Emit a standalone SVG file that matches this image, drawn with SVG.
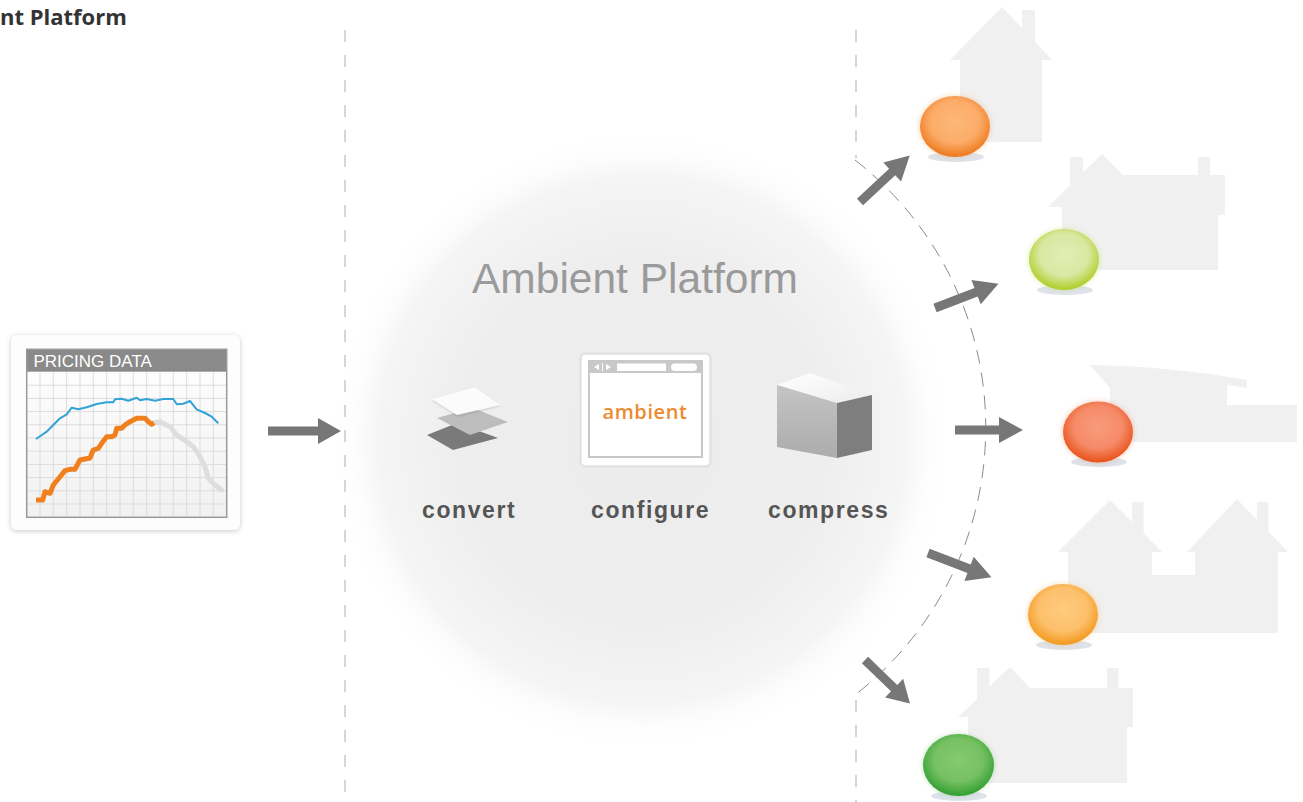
<svg xmlns="http://www.w3.org/2000/svg" width="1303" height="802" viewBox="0 0 1303 802">
<style>
.house{fill:#f0f0f0}
.arr{fill:#777}
.vdash{fill:none;stroke:#c9c9c9;stroke-width:1.5;stroke-dasharray:12 13}
.cdash{fill:none;stroke:#8a8a8a;stroke-width:1;stroke-dasharray:14 9}
.lbl{font-family:"Liberation Sans",Arial,sans-serif;font-weight:bold;font-size:23px;fill:#555;letter-spacing:1.6px}
.grid{stroke:#dcdcdc;stroke-width:1}
.shadow{fill:#dde3e9}
</style>
<defs>
<radialGradient id="glow" gradientUnits="userSpaceOnUse" cx="642" cy="440" r="310">
<stop offset="0" stop-color="#ececec"/>
<stop offset="0.6" stop-color="#eeeeee"/>
<stop offset="0.85" stop-color="#f5f5f5"/>
<stop offset="1" stop-color="#ffffff" stop-opacity="0"/>
</radialGradient>
<linearGradient id="chartbg" x1="0" y1="0" x2="0" y2="1">
<stop offset="0" stop-color="#ffffff"/>
<stop offset="1" stop-color="#f1f1f1"/>
</linearGradient>
<linearGradient id="cubetop" x1="0" y1="0" x2="1" y2="1">
<stop offset="0" stop-color="#ffffff"/>
<stop offset="1" stop-color="#ececec"/>
</linearGradient>
<linearGradient id="cubeleft" x1="0" y1="0" x2="0" y2="1">
<stop offset="0" stop-color="#c4c4c4"/>
<stop offset="1" stop-color="#acacac"/>
</linearGradient>
<radialGradient id="b1" cx="0.5" cy="0.42" r="0.56">
<stop offset="0" stop-color="#fdb878"/>
<stop offset="0.62" stop-color="#fcac68"/>
<stop offset="1" stop-color="#ee7d24"/>
</radialGradient>
<radialGradient id="b2" cx="0.5" cy="0.42" r="0.56">
<stop offset="0" stop-color="#e2edb6"/>
<stop offset="0.62" stop-color="#d9e8a2"/>
<stop offset="1" stop-color="#b2cf2f"/>
</radialGradient>
<radialGradient id="b3" cx="0.5" cy="0.42" r="0.56">
<stop offset="0" stop-color="#f99c7c"/>
<stop offset="0.62" stop-color="#f68a68"/>
<stop offset="1" stop-color="#e9561f"/>
</radialGradient>
<radialGradient id="b4" cx="0.5" cy="0.42" r="0.56">
<stop offset="0" stop-color="#fecb7e"/>
<stop offset="0.62" stop-color="#fdc06c"/>
<stop offset="1" stop-color="#f49c24"/>
</radialGradient>
<radialGradient id="b5" cx="0.5" cy="0.42" r="0.56">
<stop offset="0" stop-color="#86ca72"/>
<stop offset="0.62" stop-color="#76c062"/>
<stop offset="1" stop-color="#36a236"/>
</radialGradient>
<filter id="cardsh" x="-10%" y="-10%" width="120%" height="120%">
<feDropShadow dx="0" dy="1" stdDeviation="2.5" flood-color="#000" flood-opacity="0.22"/>
</filter>
<filter id="soft" x="-30%" y="-30%" width="160%" height="160%">
<feGaussianBlur stdDeviation="2.5"/>
</filter>
<filter id="lsh" x="-20%" y="-20%" width="140%" height="160%">
<feDropShadow dx="0" dy="1" stdDeviation="1" flood-color="#000" flood-opacity="0.18"/>
</filter>
<path id="arrow" d="M0,-4.5 H44 V-13 L68,0 L44,13 V4.5 H0 Z"/>
</defs>

<rect width="1303" height="802" fill="#ffffff"/>

<!-- platform glow -->
<circle cx="642" cy="440" r="310" fill="url(#glow)"/>

<!-- title -->
<text x="0" y="25" font-family="'Open Sans','Liberation Sans',sans-serif" font-weight="700" font-size="22" fill="#333">nt Platform</text>

<!-- divider lines -->
<g id="dividers">
<line class="vdash" x1="345" y1="30" x2="345" y2="802"/>
<line class="vdash" x1="856" y1="30" x2="856" y2="158"/>
<line class="vdash" x1="856" y1="700" x2="856" y2="802"/>
<path class="cdash" d="M855,160 A339,339 0 0 1 855,695"/>
</g>

<!-- houses -->
<g id="houses">
<g id="house-1">
<polygon class="house" points="950,60 1002,7 1052,60 1042,60 1042,142 960,142 960,60"/>
<rect class="house" x="1022" y="10" width="13" height="35"/>
</g>
<g id="house-2">
<polygon class="house" points="1048,207 1102,154 1123,175 1225,175 1225,215 1218,215 1218,270 1062,270 1062,207"/>
<rect class="house" x="1070" y="157" width="13" height="35"/>
<rect class="house" x="1198" y="157" width="12" height="20"/>
</g>
<g id="house-3">
<path class="house" d="M1090,365 Q1170,366 1247,380 L1247,388 Q1170,376 1110,374 L1110,442 L1297,442 L1297,405 L1227,405 L1227,388 L1110,388 Z"/>
<path class="house" d="M1110,372 L1227,380 L1227,442 L1110,442 Z"/>
</g>
<g id="house-4">
<polygon class="house" points="1058,552 1110,500 1162,552 1152,552 1152,575 1195,575 1195,552 1187,552 1237,499 1288,552 1278,552 1278,633 1068,633 1068,552"/>
<rect class="house" x="1132" y="502" width="11.5" height="35"/>
<rect class="house" x="1257" y="502" width="11.5" height="35"/>
</g>
<g id="house-5">
<polygon class="house" points="958,717 1010,667 1030,688 1133,688 1133,727 1127,727 1127,783 968,783 968,717"/>
<rect class="house" x="977" y="668" width="12.5" height="35"/>
<rect class="house" x="1107" y="668" width="11.5" height="22"/>
</g>
</g>

<!-- pricing data card -->
<g id="pricing-data">
<rect x="11" y="335" width="229" height="195" rx="6" fill="#fdfdfd" filter="url(#cardsh)"/>
<rect x="26.7" y="349.3" width="200" height="168" fill="url(#chartbg)"/>
<g class="grid">
<line x1="40" y1="372" x2="40" y2="517"/><line x1="53.3" y1="372" x2="53.3" y2="517"/>
<line x1="66.7" y1="372" x2="66.7" y2="517"/><line x1="80" y1="372" x2="80" y2="517"/>
<line x1="93.3" y1="372" x2="93.3" y2="517"/><line x1="106.7" y1="372" x2="106.7" y2="517"/>
<line x1="120" y1="372" x2="120" y2="517"/><line x1="133.3" y1="372" x2="133.3" y2="517"/>
<line x1="146.7" y1="372" x2="146.7" y2="517"/><line x1="160" y1="372" x2="160" y2="517"/>
<line x1="173.3" y1="372" x2="173.3" y2="517"/><line x1="186.7" y1="372" x2="186.7" y2="517"/>
<line x1="200" y1="372" x2="200" y2="517"/><line x1="213.3" y1="372" x2="213.3" y2="517"/>
<line x1="26.7" y1="385.2" x2="226.7" y2="385.2"/><line x1="26.7" y1="398.4" x2="226.7" y2="398.4"/>
<line x1="26.7" y1="411.6" x2="226.7" y2="411.6"/><line x1="26.7" y1="424.8" x2="226.7" y2="424.8"/>
<line x1="26.7" y1="438" x2="226.7" y2="438"/><line x1="26.7" y1="451.2" x2="226.7" y2="451.2"/>
<line x1="26.7" y1="464.4" x2="226.7" y2="464.4"/><line x1="26.7" y1="477.6" x2="226.7" y2="477.6"/>
<line x1="26.7" y1="490.8" x2="226.7" y2="490.8"/><line x1="26.7" y1="504" x2="226.7" y2="504"/>
</g>
<polyline fill="none" stroke="#dedede" stroke-width="5" stroke-linejoin="round" stroke-linecap="round" points="154,422.7 160,421.7 170,426.7 176.7,435 186.7,441.7 193.3,446.7 200,456.7 205,466.7 208.3,478.3 215,485 221.7,490"/>
<polyline fill="none" stroke="#33a3d6" stroke-width="2" stroke-linejoin="round" points="36,439 46.7,431.7 53.3,425 60,418.3 66.7,414.3 71.7,407.7 78.3,409.3 86.7,407.3 96.7,404 106.7,402.3 113.3,402.3 115,399.3 121.7,398.7 128.3,400.7 136.7,397.7 140,400.3 146.7,399 155,400.7 163.3,399 173.3,399 176.7,404.3 183.3,403.7 190,401 196.7,409.3 205,413 211.7,416.7 218.3,423.3"/>
<polyline fill="none" stroke="#f07f1e" stroke-width="5" stroke-linejoin="round" points="36,500 42.7,500 45,491.7 50,493.3 53.3,485 60,476.7 65,470.7 70,469.3 75,469.3 80,460 85,459 90,458 93.3,450 98.3,448.3 101.7,443.3 106.7,436.7 111.7,436.7 115,435 116.7,428.3 121.7,428.3 125,425 130,421.7 136.7,418.3 145,418.3 148.3,421.7 151.7,424.3 154,422.7"/>
<rect x="26.7" y="349.3" width="200" height="22.4" fill="#8a8a8a"/>
<rect x="26.7" y="349.3" width="200" height="168" fill="none" stroke="#999" stroke-width="1.5"/>
<text x="33.5" y="367" font-family="'Liberation Sans',Arial,sans-serif" font-size="17" fill="#ffffff">PRICING DATA</text>
</g>

<!-- platform -->
<g id="platform">
<text x="472" y="293" font-family="'Liberation Sans',Arial,sans-serif" font-size="42.5" fill="#9a9a9a">Ambient Platform</text>
</g>

<g id="convert">
<polygon points="427,435 457,423 498,438 453,450" fill="#7a7a7a"/>
<polygon points="437,418 473,408 508,422 470,435" fill="#bdbdbd"/>
<polygon points="432,399 475,387 500,405 457,415" fill="#fbfbfb" filter="url(#lsh)"/>
<text class="lbl" x="422" y="518">convert</text>
</g>

<g id="configure">
<rect x="580.5" y="353.5" width="130" height="113" rx="5" fill="#ffffff" stroke="#e2e2e2" stroke-width="2.5"/>
<rect x="589" y="361" width="113" height="96" fill="#ffffff" stroke="#c8c8c8" stroke-width="2"/>
<rect x="589" y="361" width="113" height="12" fill="#c8c8c8"/>
<polygon points="594,367 599,364 599,370" fill="#ffffff"/>
<line x1="602.5" y1="363" x2="602.5" y2="371" stroke="#ffffff" stroke-width="1"/>
<polygon points="611,367 606,364 606,370" fill="#ffffff"/>
<rect x="617" y="363.5" width="49" height="7.5" fill="#ffffff"/>
<rect x="671" y="363.5" width="26" height="7.5" rx="3.75" fill="#ffffff"/>
<text x="645" y="419" text-anchor="middle" font-family="'Open Sans','Liberation Sans',sans-serif" font-weight="600" font-size="20" letter-spacing="0.6" fill="#ee8a2e">ambient</text>
<text class="lbl" x="591" y="518">configure</text>
</g>

<g id="compress">
<polygon points="777,385 810,373 872,395 837,403" fill="url(#cubetop)"/>
<polygon points="777,385 837,403 837,458 777,447" fill="url(#cubeleft)"/>
<polygon points="837,403 872,395 872,450 837,458" fill="#7e7e7e"/>
<text class="lbl" x="768" y="518">compress</text>
</g>

<!-- connectors -->
<g id="connectors" class="arr">
<path d="M268,426.5 H318 V418 L341,431 L318,444 V435.5 H268 Z"/>
<use href="#arrow" transform="translate(860,202) rotate(-43)"/>
<use href="#arrow" transform="translate(935,308) rotate(-21)"/>
<use href="#arrow" transform="translate(955,430)"/>
<use href="#arrow" transform="translate(928,553) rotate(21)"/>
<use href="#arrow" transform="translate(865,660) rotate(44) scale(0.92,1)"/>
</g>

<!-- status balls -->
<g id="status-1">
<ellipse class="shadow" cx="956" cy="157" rx="28" ry="5"/>
<ellipse cx="955" cy="126.5" rx="36" ry="31" fill="#f59a4c" opacity="0.35" filter="url(#soft)"/>
<ellipse cx="955" cy="126.5" rx="35" ry="30.5" fill="url(#b1)"/>
</g>
<g id="status-2">
<ellipse class="shadow" cx="1065" cy="290" rx="28" ry="5"/>
<ellipse cx="1064" cy="259.5" rx="36" ry="31" fill="#c3dc5a" opacity="0.35" filter="url(#soft)"/>
<ellipse cx="1064" cy="259.5" rx="35" ry="30.5" fill="url(#b2)"/>
</g>
<g id="status-3">
<ellipse class="shadow" cx="1099" cy="462" rx="28" ry="5"/>
<ellipse cx="1098" cy="432" rx="36" ry="31" fill="#f07a50" opacity="0.35" filter="url(#soft)"/>
<ellipse cx="1098" cy="432" rx="35" ry="30.5" fill="url(#b3)"/>
</g>
<g id="status-4">
<ellipse class="shadow" cx="1064" cy="645" rx="28" ry="5"/>
<ellipse cx="1063" cy="614.5" rx="36" ry="31" fill="#f8b04a" opacity="0.35" filter="url(#soft)"/>
<ellipse cx="1063" cy="614.5" rx="35" ry="30.5" fill="url(#b4)"/>
</g>
<g id="status-5">
<ellipse class="shadow" cx="959" cy="796" rx="28" ry="5"/>
<ellipse cx="958.5" cy="765" rx="36" ry="31" fill="#5ab650" opacity="0.35" filter="url(#soft)"/>
<ellipse cx="958.5" cy="765" rx="35.5" ry="31" fill="url(#b5)"/>
</g>
</svg>
